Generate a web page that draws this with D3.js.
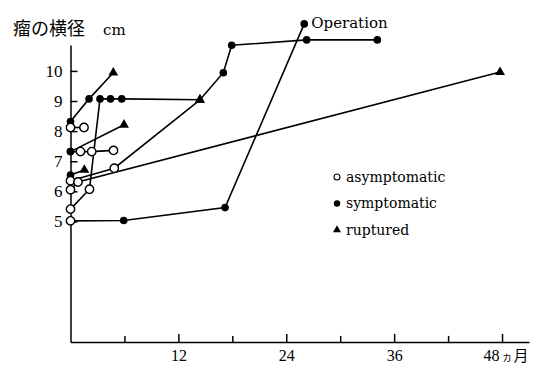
<!DOCTYPE html>
<html>
<head>
<meta charset="utf-8">
<script src="https://cdn.jsdelivr.net/npm/d3@7"></script>
<style>
  body { margin: 0; background: #fff; }
  svg { display: block; }
</style>
</head>
<body>
<div id="chart"></div>
<script>
// each point: [months, diameter cm, status]  A = asymptomatic, S = symptomatic, R = ruptured
const patientA = [[0, 8.32, "S"], [2.06, 9.07, "S"], [4.76, 9.94, "R"]]
const patientB = [[0, 8.12, "A"], [1.5, 8.12, "A"]]
const patientC = [[0, 7.32, "S"], [5.95, 8.21, "R"]]
const patientD = [[0, 7.32, "S"], [1.11, 7.32, "A"], [2.36, 7.32, "A"], [4.78, 7.36, "A"]]
const patientE = [[0, 6.54, "S"], [1.54, 6.71, "R"]]
const patientF = [[0, 6.35, "A"], [4.87, 6.77, "A"], [14.4, 9.04, "R"]]
const patientG = [[0, 6.05, "A"], [0.83, 6.31, "A"], [47.78, 9.96, "R"]]
const patientH = [[0, 5.41, "A"], [2.11, 6.07, "A"], [3.28, 9.07, "S"], [4.45, 9.07, "S"], [5.7, 9.07, "S"],
  [14.4, 9.04, "R"], [17.0, 9.94, "S"], [17.93, 10.85, "S"], [26.27, 11.03, "S"], [34.13, 11.03, "S"]]
const patientI = [[0, 5.02, "A"], [5.92, 5.03, "S"], [17.19, 5.46, "S"], [26.0, 11.56, "S"]]

const patients = [patientA, patientB, patientC, patientD, patientE, patientF, patientG, patientH, patientI]

const yTicks = [5, 6, 7, 8, 9, 10]
const xMajorTicks = [12, 24, 36, 48]
const xMinorTicks = [6, 18, 30, 42]
const legendItems = [["A", "asymptomatic"], ["S", "symptomatic"], ["R", "ruptured"]]

const width = 555
const height = 366

const svg = d3.select("#chart")
  .append("svg")
  .attr("width", width)
  .attr("height", height)

const xScale = d3.scaleLinear()
  .domain([0, 51])
  .range([70.5, 529])

const yScale = d3.scaleLinear()
  .domain([1, 10.86])
  .range([341.9, 45])

const serif = "'DejaVu Serif', serif"
const digits = "'Liberation Serif', 'Times New Roman', serif"
const cjk = "'Noto Sans CJK JP', sans-serif"

// axes
const yAxis = d3.axisLeft(yScale)
  .tickValues(yTicks)
  .tickSizeInner(-7)
  .tickSizeOuter(0)
  .tickPadding(8)

const yG = svg.append("g")
  .attr("transform", "translate(70.5,0)")
  .call(yAxis)

const xAxis = d3.axisBottom(xScale)
  .tickValues(xMajorTicks)
  .tickSizeInner(-8)
  .tickSizeOuter(0)
  .tickPadding(8)

const xG = svg.append("g")
  .attr("transform", "translate(0,341.9)")
  .call(xAxis)

const xMinor = svg.append("g")
  .attr("transform", "translate(0,341.9)")
  .call(d3.axisBottom(xScale).tickValues(xMinorTicks).tickSizeInner(-6).tickSizeOuter(0).tickFormat(""))
xMinor.select(".domain").remove()

svg.selectAll(".domain, .tick line")
  .attr("stroke", "#000")
  .attr("stroke-width", 1.5)

svg.selectAll(".tick text")
  .attr("fill", "#000")
  .style("font-family", digits)

yG.selectAll(".tick text").style("font-size", "17px")
xG.selectAll(".tick text").style("font-size", "16px")

// "48ヵ月"
xG.selectAll(".tick text")
  .filter(d => d === 48)
  .attr("text-anchor", "start")
  .attr("x", -19)
  .call(t => {
    t.append("tspan").text("ヵ").style("font-family", cjk).style("font-size", "11px").attr("dx", 2)
    t.append("tspan").text("月").style("font-family", cjk).style("font-size", "15px").attr("dx", 1)
  })

// y label
const yLabel = svg.append("text")
  .attr("x", 13)
  .attr("y", 35)
  .attr("fill", "#000")
yLabel.append("tspan").text("瘤の横径").style("font-family", cjk).style("font-size", "18px")
yLabel.append("tspan").text("cm").attr("x", 103).style("font-family", serif).style("font-size", "15px")

// lines
const line = d3.line()
  .x(d => xScale(d[0]))
  .y(d => yScale(d[1]))

svg.append("g")
  .selectAll("path")
  .data(patients)
  .join("path")
  .attr("d", line)
  .attr("fill", "none")
  .attr("stroke", "#000")
  .attr("stroke-width", 1.6)

// markers
function drawMarker(sel, status, big) {
  if (status === "A") {
    sel.append("circle")
      .attr("r", big ? 4.2 : 3)
      .attr("fill", "#fff")
      .attr("stroke", "#000")
      .attr("stroke-width", big ? 1.4 : 1.1)
  } else if (status === "S") {
    sel.append("circle")
      .attr("r", big ? 3.8 : 3.2)
      .attr("fill", "#000")
  } else {
    sel.append("path")
      .attr("d", d3.symbol(d3.symbolTriangle, big ? 42 : 28)())
      .attr("fill", "#000")
  }
}

const allPoints = patients.flat()

svg.append("g")
  .selectAll("g")
  .data(allPoints)
  .join("g")
  .attr("transform", d => `translate(${xScale(d[0])},${yScale(d[1])})`)
  .each(function(d) { drawMarker(d3.select(this), d[2], true) })

// operation label
const op = patientI[patientI.length - 1]
svg.append("text")
  .attr("x", xScale(op[0]) + 7)
  .attr("y", yScale(op[1]) + 4)
  .attr("fill", "#000")
  .style("font-family", serif)
  .style("font-size", "15px")
  .text("Operation")

// legend
const legend = svg.append("g")
  .selectAll("g")
  .data(legendItems)
  .join("g")
  .attr("transform", (d, i) => `translate(337,${177 + i * 26.5})`)

legend.each(function(d) { drawMarker(d3.select(this), d[0], false) })

legend.append("text")
  .attr("x", 9)
  .attr("y", 4.5)
  .attr("fill", "#000")
  .style("font-family", serif)
  .style("font-size", "14px")
  .text(d => d[1])
</script>
</body>
</html>
